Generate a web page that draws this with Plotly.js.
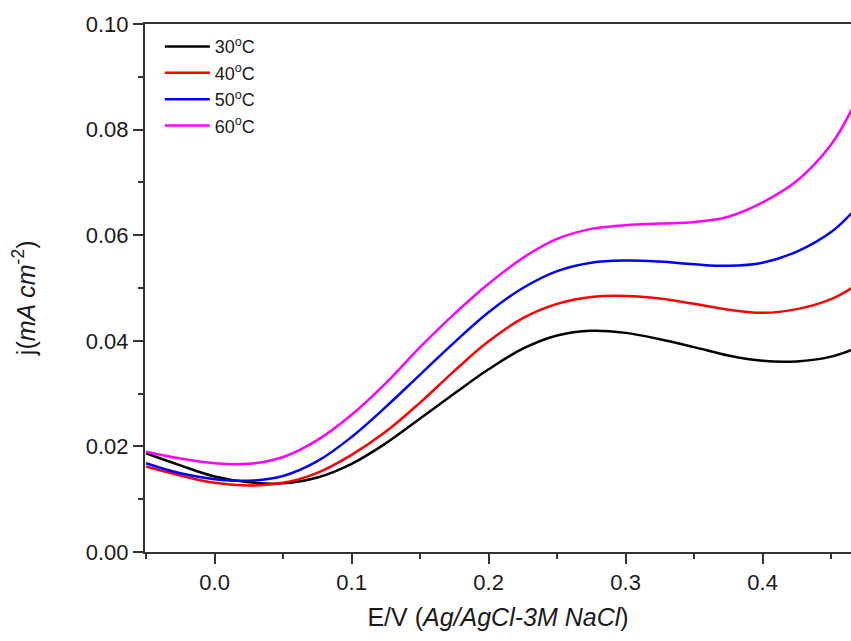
<!DOCTYPE html>
<html>
<head>
<meta charset="utf-8">
<script src="https://cdn.plot.ly/plotly-3.0.1.min.js"></script>
<style>html,body{margin:0;padding:0;background:#fff;}#chart{width:851px;height:641px;}</style>
</head>
<body>
<div id="chart"></div>
<script>
const potential = [-0.05, -0.025, 0.0, 0.025, 0.05, 0.075, 0.1, 0.125, 0.15, 0.175, 0.2, 0.225, 0.25, 0.275, 0.3, 0.325, 0.35, 0.375, 0.4, 0.425, 0.45, 0.465];
const j30 = [0.0187, 0.0164, 0.0143, 0.0132, 0.0130, 0.0141, 0.0167, 0.0206, 0.0253, 0.0300, 0.0346, 0.0385, 0.0410, 0.0419, 0.0415, 0.0403, 0.0388, 0.0372, 0.0362, 0.0361, 0.0370, 0.0383];
const j40 = [0.0162, 0.0145, 0.0131, 0.0126, 0.0131, 0.0150, 0.0184, 0.0228, 0.0283, 0.0343, 0.0399, 0.0443, 0.0470, 0.0483, 0.0485, 0.0480, 0.0470, 0.0459, 0.0453, 0.0460, 0.0479, 0.0500];
const j50 = [0.0168, 0.0149, 0.0138, 0.0135, 0.0144, 0.0172, 0.0218, 0.0275, 0.0336, 0.0397, 0.0454, 0.0500, 0.0532, 0.0548, 0.0552, 0.0550, 0.0545, 0.0542, 0.0548, 0.0569, 0.0606, 0.0642];
const j60 = [0.0190, 0.0177, 0.0168, 0.0167, 0.0180, 0.0212, 0.0260, 0.0320, 0.0388, 0.0451, 0.0508, 0.0557, 0.0593, 0.0612, 0.0619, 0.0622, 0.0625, 0.0635, 0.0662, 0.0703, 0.0772, 0.0838];
const seriesNames = ["30<sup>o</sup>C", "40<sup>o</sup>C", "50<sup>o</sup>C", "60<sup>o</sup>C"];
const seriesColors = ["#000000", "#ff0000", "#0000ff", "#ff00ff"];
const xTickVals = [0.0, 0.1, 0.2, 0.3, 0.4];
const yTickVals = [0.00, 0.02, 0.04, 0.06, 0.08, 0.10];
const xTitle = 'E/V (<i>Ag/AgCl-3M NaCl</i>)';
const yTitle = 'j(<i>mA cm</i><sup>-2</sup>)';

const allY = [j30, j40, j50, j60];
const traces = allY.map((ys, i) => ({
  x: potential, y: ys, type: 'scatter', mode: 'lines', name: seriesNames[i],
  line: {color: seriesColors[i], width: 2.5, shape: 'spline', smoothing: 1.1}
}));

const fontFam = '"Liberation Sans", Arial, sans-serif';
const layout = {
  width: 851, height: 641,
  margin: {l: 145, r: 0, t: 24, b: 89},
  paper_bgcolor: '#fff', plot_bgcolor: '#fff',
  font: {family: fontFam, color: '#1a1a1a', size: 22},
  showlegend: true,
  legend: {x: 0.021, y: 0.992, xanchor: 'left', yanchor: 'top', font: {size: 18, family: fontFam, color: '#1a1a1a'},
           bgcolor: 'rgba(0,0,0,0)', itemwidth: 45, tracegroupgap: 0},
  xaxis: {
    range: [-0.0508, 0.4645], showgrid: false, zeroline: false,
    showline: true, linecolor: '#333', linewidth: 2, mirror: true,
    ticks: 'outside', ticklen: 10, tickwidth: 2, tickcolor: '#333',
    tickvals: xTickVals, tickformat: '.1f', tickfont: {size: 22},
    minor: {dtick: 0.05, tick0: 0, ticks: 'outside', ticklen: 5, tickwidth: 2, tickcolor: '#333', showgrid: false},
    title: {text: xTitle, font: {size: 25}, standoff: 14}
  },
  yaxis: {
    range: [0, 0.1], showgrid: false, zeroline: false,
    showline: true, linecolor: '#333', linewidth: 2,
    ticks: 'outside', ticklen: 10, tickwidth: 2, tickcolor: '#333',
    tickvals: yTickVals, tickformat: '.2f', tickfont: {size: 22},
    minor: {dtick: 0.01, tick0: 0, ticks: 'outside', ticklen: 5, tickwidth: 2, tickcolor: '#333', showgrid: false}
  },
  annotations: [{
    text: yTitle, xref: 'paper', yref: 'paper', x: -0.172, y: 0.48,
    xanchor: 'center', yanchor: 'middle', textangle: -90, showarrow: false,
    font: {size: 25, family: fontFam, color: '#1a1a1a'}
  }]
};
Plotly.newPlot('chart', traces, layout, {displayModeBar: false, staticPlot: true});
</script>
</body>
</html>
